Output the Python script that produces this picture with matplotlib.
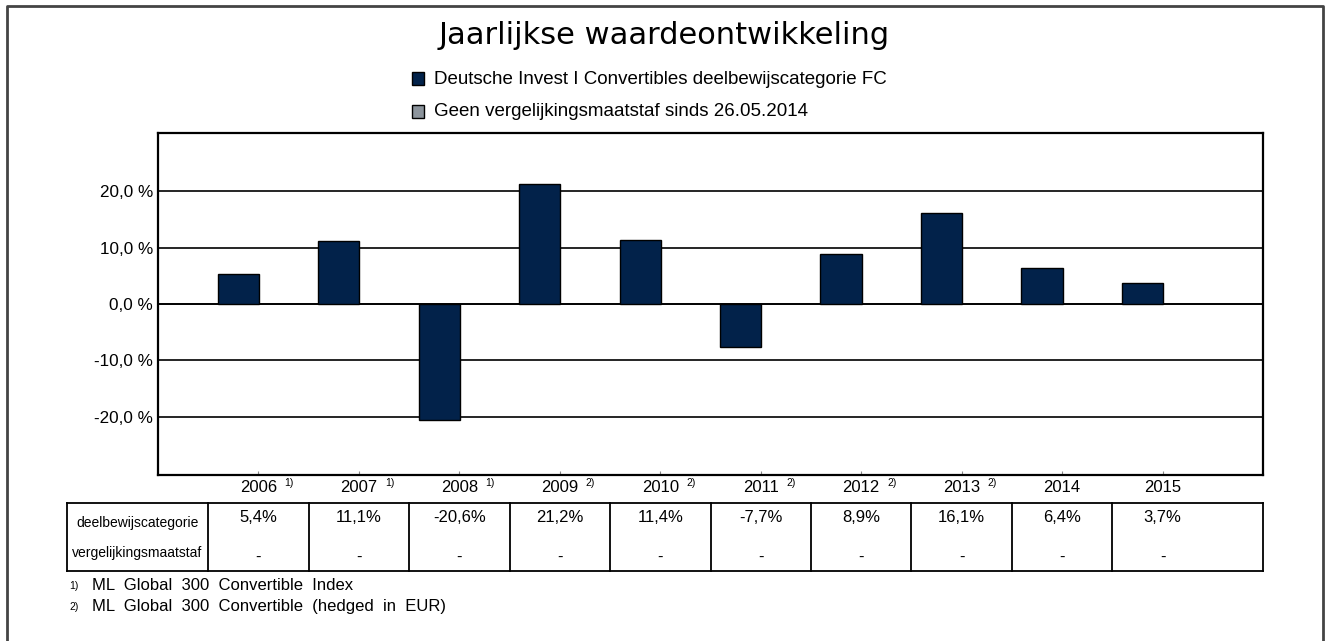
import numpy as np
import matplotlib.pyplot as plt
from matplotlib.patches import Rectangle
from matplotlib.transforms import blended_transform_factory

# Data
years = ['2006', '2007', '2008', '2009', '2010', '2011', '2012', '2013', '2014', '2015']
notes = ['1)', '1)', '1)', '2)', '2)', '2)', '2)', '2)', '', '']
fund = [5.4, 11.1, -20.6, 21.2, 11.4, -7.7, 8.9, 16.1, 6.4, 3.7]
benchmark = ['-'] * 10
row_labels = ['deelbewijscategorie', 'vergelijkingsmaatstaf']
legend_labels = ['Deutsche Invest I Convertibles deelbewijscategorie FC',
                 'Geen vergelijkingsmaatstaf sinds 26.05.2014']
footnotes = [('1)', 'ML  Global  300  Convertible  Index'),
             ('2)', 'ML  Global  300  Convertible  (hedged  in  EUR)')]
yticks = [-20, -10, 0, 10, 20]

W, H = 1325, 641
navy = '#02224a'
grey = '#8c949c'
sans = ['Liberation Sans', 'DejaVu Sans']

fig = plt.figure(figsize=(W / 100, H / 100), dpi=100)

def fy(py):
    return 1 - py / H

def fx(px):
    return px / W

# outer frame (no bottom edge)
fig.add_artist(plt.Line2D([fx(7), fx(7), fx(1323), fx(1323)], [0, fy(6), fy(6), 0],
                          color='#444444', lw=2, transform=fig.transFigure))

fig.text(fx(664), fy(44), 'Jaarlijkse waardeontwikkeling', ha='center', va='baseline',
         fontsize=22, family='DejaVu Sans')

# legend
for i, (lab, col) in enumerate(zip(legend_labels, [navy, grey])):
    y = 79 + i * 33
    fig.add_artist(Rectangle((fx(412), fy(y + 6)), 12 / W, 13 / H, facecolor=col,
                             edgecolor='black', lw=1, transform=fig.transFigure))
    fig.text(fx(434), fy(y), lab, ha='left', va='center', fontsize=13.5, family=sans)

ax = fig.add_axes([fx(158), fy(475), fx(1263) - fx(158), fy(133) - fy(475)])
x = np.arange(len(years))
ax.bar(x, fund, width=0.41, color=navy, edgecolor='black', linewidth=1, zorder=3)
ax.set_xlim(-0.8, 10.2)
ax.set_ylim(-30.3, 30.3)
ax.set_yticks(yticks)
ax.set_yticklabels([f'{v:.1f} %'.replace('.', ',') for v in yticks], fontsize=12.3, family=sans)
ax.grid(axis='y', color='black', lw=1.2, zorder=1)
ax.axhline(0, color='black', lw=1.2, zorder=2)
ax.tick_params(axis='y', length=0, pad=3.5)
ax.set_xticks(x + 0.2)
ax.set_xticklabels([])
ax.tick_params(axis='x', direction='in', length=3, width=0.8, color='#888888')
for s in ax.spines.values():
    s.set_linewidth(1.6)

# year labels under the axis
tr = blended_transform_factory(ax.transData, fig.transFigure)
for xi, yr, nt in zip(x, years, notes):
    ax.text(xi + 0.2, fy(488), yr, ha='center', va='center', fontsize=12,
            family=sans, transform=tr)
    if nt:
        ax.text(xi + 0.46, fy(483), nt, ha='left', va='center', fontsize=7.5,
                family=sans, transform=tr)

# table
top, bot = fy(503), fy(571)
lines = dict(color='black', lw=1.3, transform=tr, clip_on=False)
x_left = -0.8 + (67 - 158) / 100.5
x_right = 10.2
ax.add_line(plt.Line2D([x_left, x_right], [top, top], **lines))
ax.add_line(plt.Line2D([x_left, x_right], [bot, bot], **lines))
for b in np.concatenate([[x_left], x - 0.3, [x_right]]):
    ax.add_line(plt.Line2D([b, b], [top, bot], **lines))
label_cx = (x_left + x[0] - 0.3) / 2
for j, lab in enumerate(row_labels):
    ax.text(label_cx, fy(523 + 30 * j), lab, ha='center', va='center',
            fontsize=10, family=sans, transform=tr)
for xi, v, b in zip(x, fund, benchmark):
    ax.text(xi + 0.2, fy(518), f'{v:.1f}%'.replace('.', ','), ha='center', va='center',
            fontsize=12, family=sans, transform=tr)
    ax.text(xi + 0.2, fy(557), b, ha='center', va='center', fontsize=12,
            family=sans, transform=tr)

# footnotes
for k, (n, t) in enumerate(footnotes):
    y = 586 + 21 * k
    fig.text(fx(69), fy(y), n, ha='left', va='center', fontsize=7.5, family=sans)
    fig.text(fx(92), fy(y), t, ha='left', va='center', fontsize=12, family=sans)

fig.savefig('out.png', dpi=100)
